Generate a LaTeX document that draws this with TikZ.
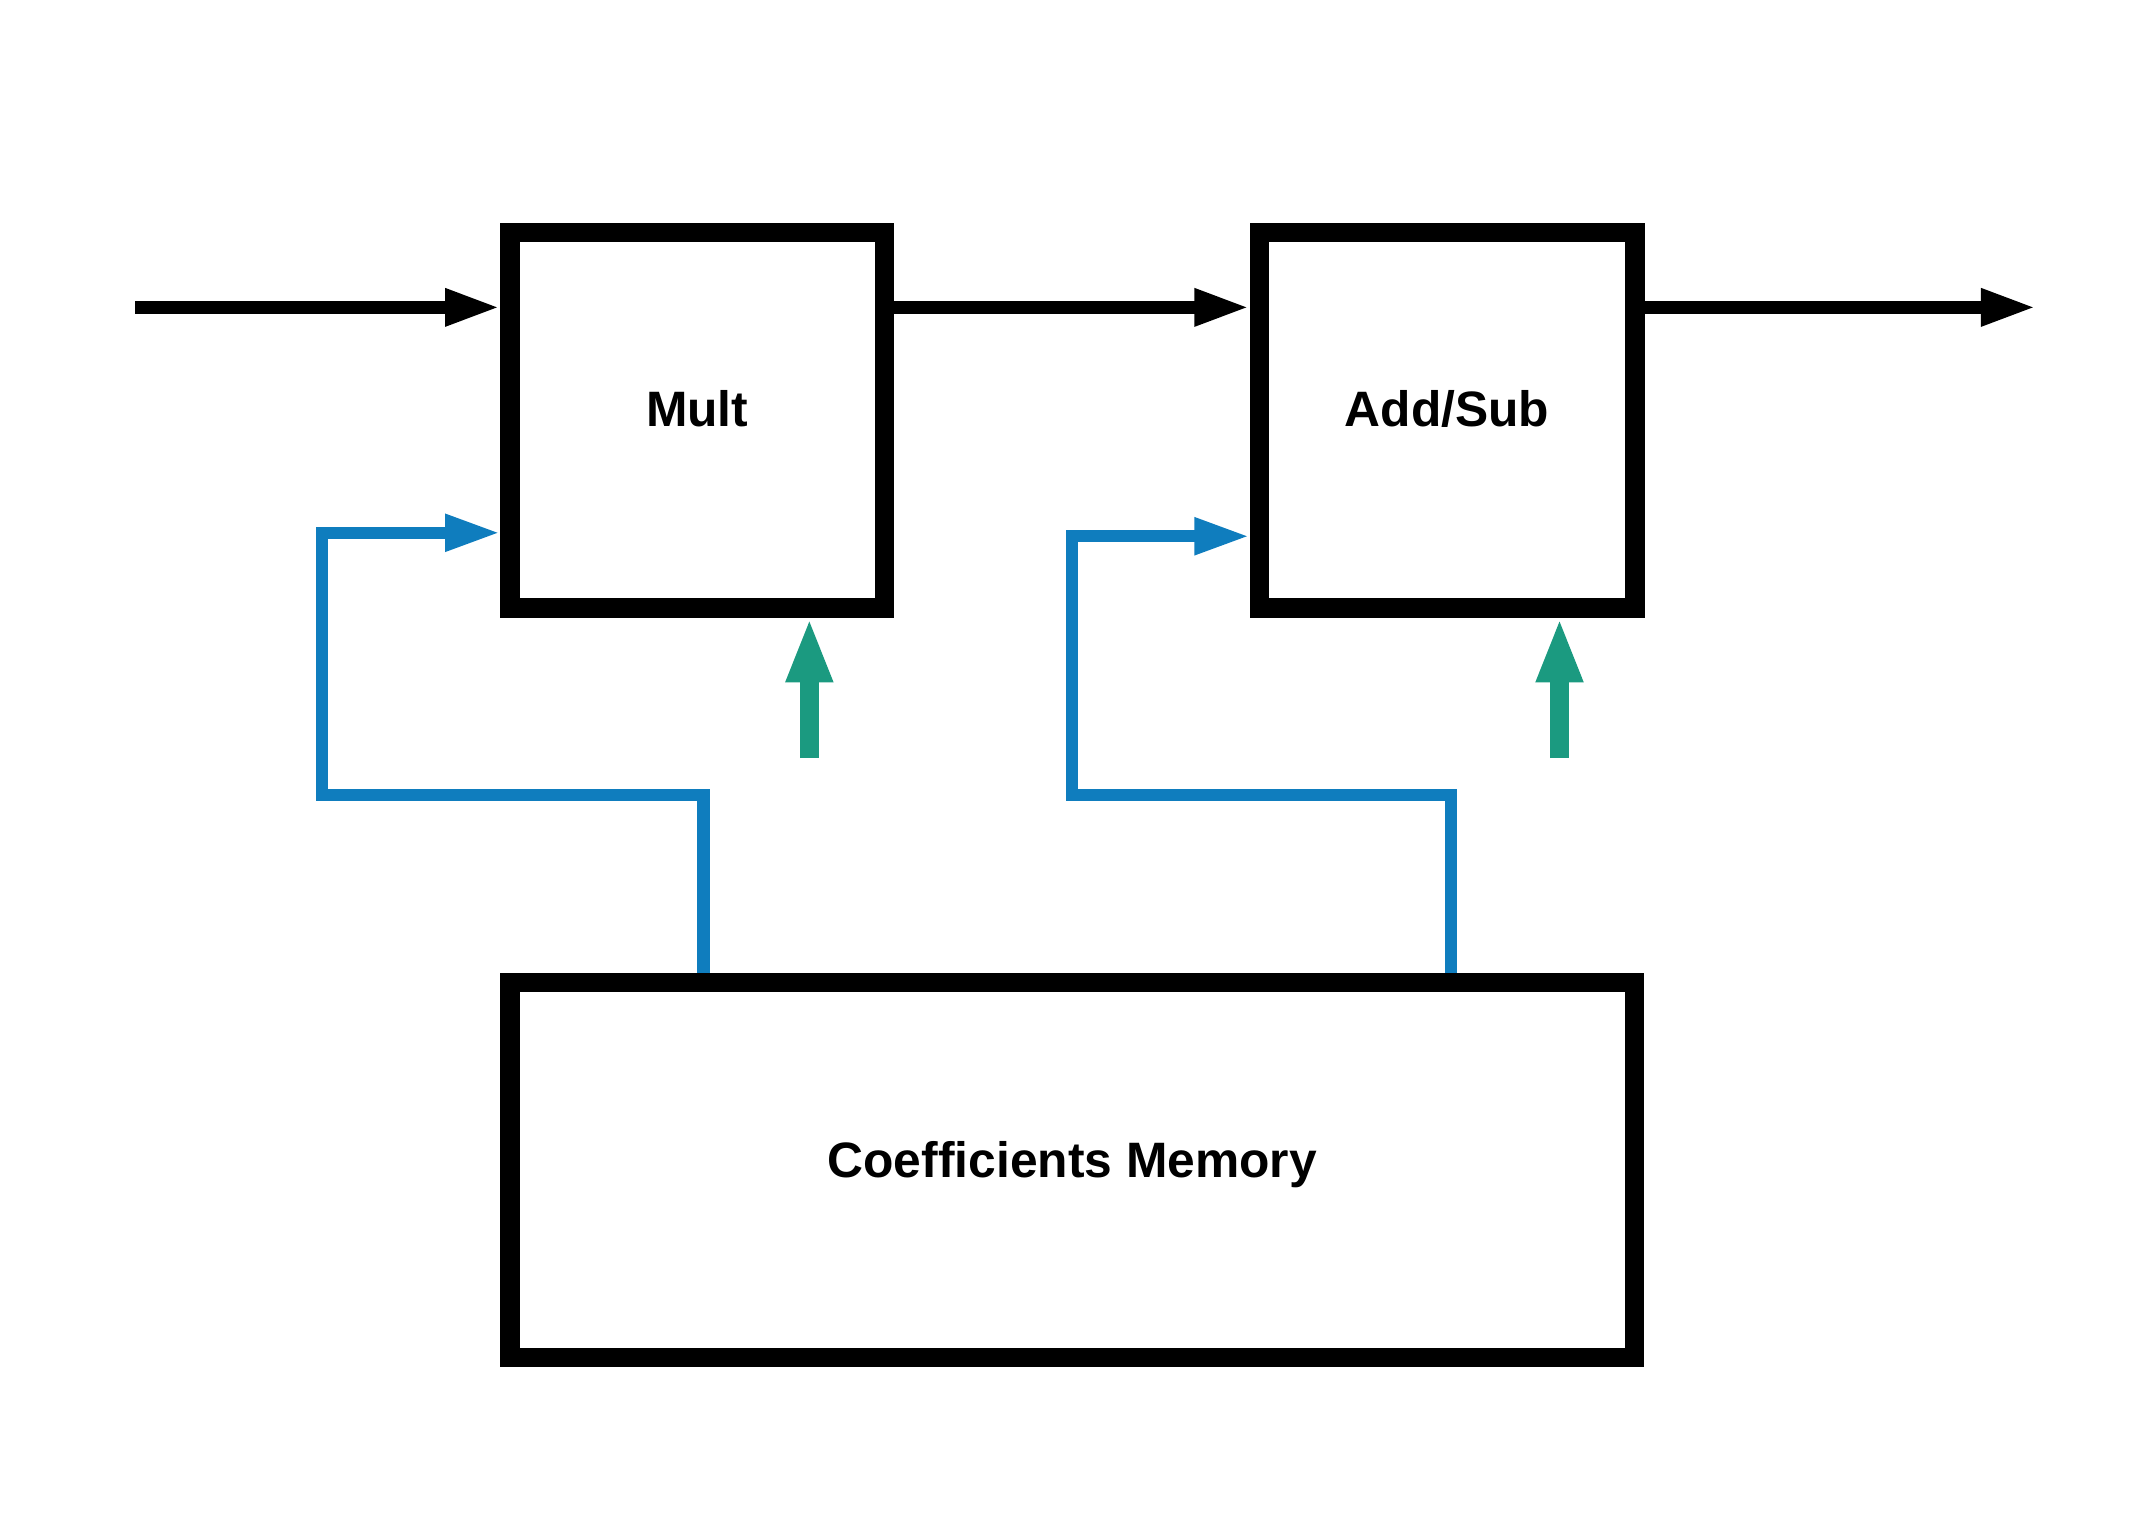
\documentclass[tikz,border=0pt]{standalone}
\usepackage{fontspec}
\setmainfont{Liberation Sans}[Ligatures=NoCommon]
\usetikzlibrary{arrows.meta}
\definecolor{sigblue}{HTML}{0F7DBE}
\definecolor{ctlgreen}{HTML}{1B9A80}
\tikzset{
  blockbox/.style={draw=black, line width=14pt, inner sep=0pt, fill=none},
  lbl/.style={font=\fontsize{36}{40}\selectfont\bfseries, inner sep=0pt, anchor=base},
  dataln/.style={draw=black, line width=9.4pt, -{Triangle[length=40pt,width=25pt]}},
  coefln/.style={draw=sigblue, line width=8.8pt, -{Triangle[length=40pt,width=25pt]}},
  ctlln/.style={draw=ctlgreen, line width=13.9pt, -{Triangle[length=47pt,width=31pt]}},
}
\begin{document}
\begin{tikzpicture}[x=1pt,y=-1pt]
\useasboundingbox (0,0) rectangle (1560,1111.4);
% blocks
\node[blockbox, minimum width=271pt, minimum height=271.8pt] (mult) at (504.5,303.9) {};
\node[blockbox, minimum width=271.7pt, minimum height=271.8pt] (addsub) at (1047.05,303.9) {};
\node[blockbox, minimum width=813.8pt, minimum height=271.2pt] (mem) at (775.9,846.6) {};
% labels
\node[lbl] (multlbl) at ([yshift=-4.8pt]mult.center) {Mult};
\node[lbl] (addlbl) at ([yshift=-4.8pt]addsub.center) {Add/Sub};
\node[lbl] (memlbl) at ([yshift=-5.1pt]mem.center) {Coefficients Memory};
% data path
\coordinate (in) at (97.8,222.4);
\coordinate (out) at (1473.3,222.4);
\draw[dataln] (in) -- (mult.west |- in);
\draw[dataln] (mult.east |- in) -- (addsub.west |- in);
\draw[dataln] (addsub.east |- in) -- (out);
% coefficient paths
\draw[coefln] (mem.north -| 509,0) -- (509,575.3) -- (233,575.3) -- (233,385.5) -- (mult.west |- 0,385.5);
\draw[coefln] (mem.north -| 1049.7,0) -- (1049.7,575.3) -- (775.5,575.3) -- (775.5,388) -- (addsub.west |- 0,388);
% control arrows
\coordinate (c1) at (585.6,548.5);
\coordinate (c2) at (1128.4,548.5);
\draw[ctlln] (c1) -- (mult.south -| c1);
\draw[ctlln] (c2) -- (addsub.south -| c2);
\end{tikzpicture}
\end{document}
